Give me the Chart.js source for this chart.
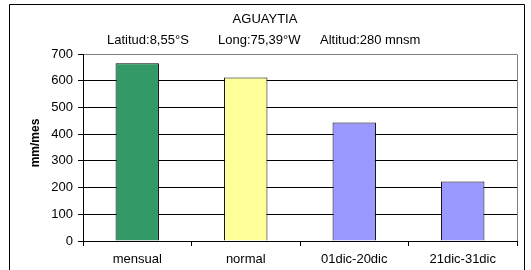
<!DOCTYPE html>
<html>
<head>
<meta charset="utf-8">
<script src="https://cdn.jsdelivr.net/npm/chart.js@4/dist/chart.umd.min.js"></script>
<style>
  html, body { margin: 0; padding: 0; background: #fff; }
  #wrap { width: 531px; height: 270px; position: relative; }
</style>
</head>
<body>
<div id="wrap"><canvas id="c" width="531" height="270"></canvas></div>
<script>
const categories = ["mensual", "normal", "01dic-20dic", "21dic-31dic"];
const values = [665, 612, 444, 223];
const barColors = ["#339966", "#FFFF99", "#9999FF", "#9999FF"];
const yTicks = [0, 100, 200, 300, 400, 500, 600, 700];
const titleText = "AGUAYTIA";
const subtitleParts = ["Latitud:8,55°S", "Long:75,39°W", "Altitud:280 mnsm"];
const yAxisTitle = "mm/mes";

const FONT = "'Liberation Sans', Arial, sans-serif";

const decor = {
  id: 'decor',
  beforeDraw(chart) {
    const ctx = chart.ctx;
    ctx.save();
    ctx.fillStyle = '#fff';
    ctx.fillRect(0, 0, chart.width, chart.height);
    ctx.restore();
  },
  beforeDatasetsDraw(chart) {
    const ctx = chart.ctx, a = chart.chartArea;
    ctx.save();
    ctx.strokeStyle = '#808080';
    ctx.lineWidth = 1;
    ctx.beginPath();
    ctx.moveTo(Math.round(a.right) + 0.5, Math.round(a.top) + 0.5);
    ctx.lineTo(Math.round(a.right) + 0.5, Math.round(a.bottom));
    ctx.stroke();
    ctx.restore();
  },
  afterDraw(chart) {
    const ctx = chart.ctx;
    ctx.save();
    // outer frame
    ctx.strokeStyle = '#000';
    ctx.lineWidth = 1;
    ctx.beginPath();
    ctx.moveTo(9.5, 275);
    ctx.lineTo(9.5, 4.5);
    ctx.lineTo(524.5, 4.5);
    ctx.lineTo(524.5, 275);
    ctx.stroke();
    // titles
    ctx.fillStyle = '#000';
    ctx.font = "13px " + FONT;
    ctx.textBaseline = 'middle';
    ctx.textAlign = 'center';
    ctx.fillText(titleText, 265, 19);
    ctx.textAlign = 'left';
    const xs = [107, 218, 320];
    subtitleParts.forEach((t, i) => ctx.fillText(t, xs[i], 40));
    // y axis title
    ctx.font = "bold 12px " + FONT;
    ctx.translate(36, 143);
    ctx.rotate(-Math.PI / 2);
    ctx.textAlign = 'center';
    ctx.fillText(yAxisTitle, 0, 0);
    ctx.restore();
  }
};

new Chart(document.getElementById('c'), {
  type: 'bar',
  data: {
    labels: categories,
    datasets: [{
      data: values,
      backgroundColor: barColors,
      borderColor: '#000',
      borderWidth: 1,
      barPercentage: 0.8,
      categoryPercentage: 0.5
    }]
  },
  options: {
    responsive: false,
    animation: false,
    devicePixelRatio: 1,
    layout: { padding: { left: 0, right: 14, top: 54, bottom: 0 } },
    plugins: { legend: { display: false }, tooltip: { enabled: false } },
    scales: {
      x: {
        afterFit(s) { s.height = 29; },
        grid: { offset: true, drawOnChartArea: false, color: '#000', tickLength: 5 },
        border: { color: '#000', width: 1 },
        ticks: { color: '#000', font: { family: FONT, size: 13 }, padding: 6, maxRotation: 0 }
      },
      y: {
        min: 0, max: 700,
        afterFit(s) { s.width = 83; },
        afterBuildTicks(s) { s.ticks = yTicks.map(v => ({ value: v })); },
        grid: {
          color: ctx => (ctx.tick && ctx.tick.value === 700) ? '#808080' : '#000',
          tickLength: 5,
          tickColor: '#000'
        },
        border: { color: '#000', width: 1 },
        ticks: { color: '#000', font: { family: FONT, size: 13 }, padding: 5 }
      }
    }
  },
  plugins: [decor]
});
</script>
</body>
</html>
